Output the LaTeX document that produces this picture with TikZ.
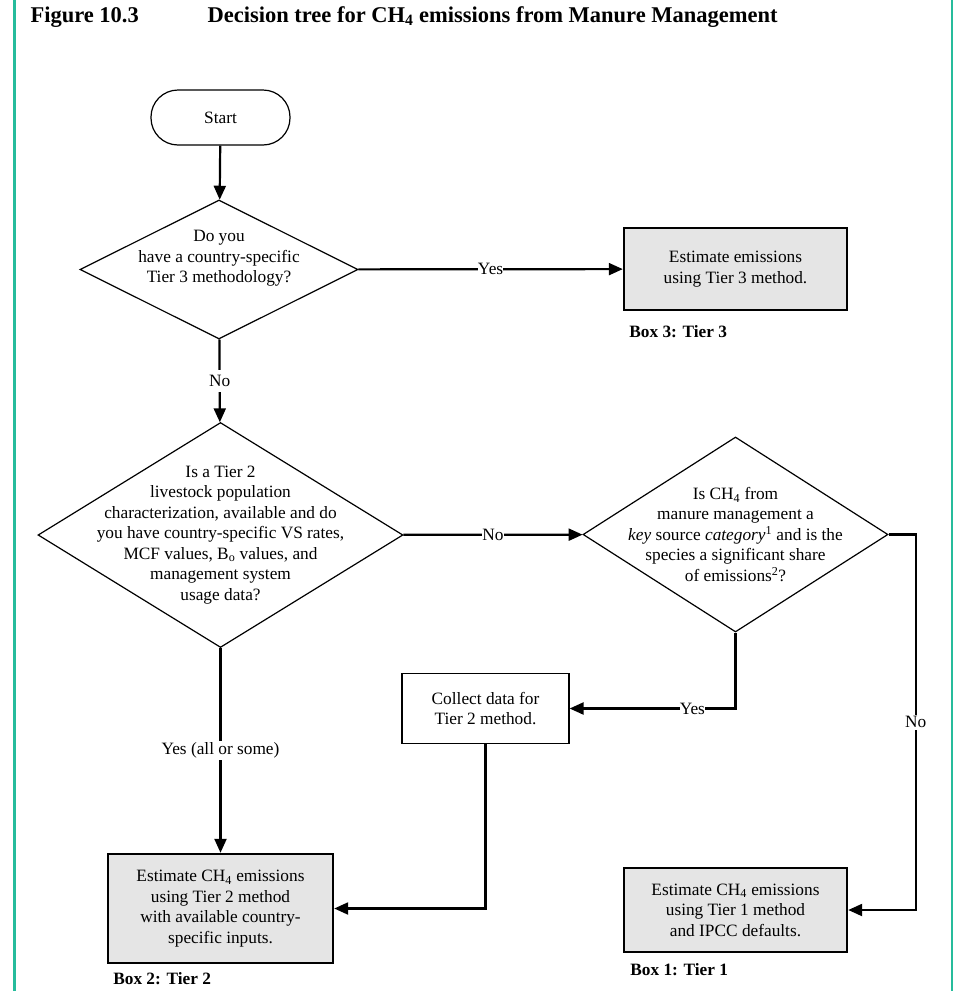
\documentclass[tikz,border=0pt]{standalone}
\usepackage{fontspec}
\setmainfont{Liberation Serif}
\usepackage{tikz}
\usetikzlibrary{shapes.geometric, arrows.meta, positioning, calc}
\definecolor{frameteal}{RGB}{38,188,156}

\begin{document}
\begin{tikzpicture}[x=1pt, y=-1pt,
    every node/.style={font=\fontsize{17.3}{20.5}\selectfont},
    start/.style={rectangle, draw, line width=1.2pt, rounded corners=27pt, minimum width=139pt, minimum height=55pt},
    decision/.style={diamond, draw, line width=1.2pt, inner sep=0pt},
    box/.style={rectangle, draw, line width=2.4pt, fill=black!10, align=center, inner sep=0pt},
    plain/.style={rectangle, draw, line width=1.2pt, align=center, inner sep=0pt},
    boxlbl/.style={anchor=west, font=\fontsize{17.3}{20.5}\selectfont\bfseries},
    lbl/.style={fill=white, inner sep=2pt},
    line/.style={draw, line width=2.2pt, -{Triangle[length=14pt,width=12pt]}}
]
    \useasboundingbox (0,0) rectangle (966,991);
    \draw[frameteal, line width=2.5pt] (14.5,0) -- (14.5,991);
    \draw[frameteal, line width=2.5pt] (952,0) -- (952,991);

    % title
    \node[anchor=west, font=\fontsize{22.5}{26}\selectfont\bfseries] (fig) at (27,17) {Figure 10.3};
    \node[anchor=west, font=\fontsize{22.5}{26}\selectfont\bfseries] (title) at (204,17) {Decision tree for CH\textsubscript{4} emissions from Manure Management};

    \node [start] (start) at (220.5,117.5) {Start};
    \node [decision, minimum width=278pt, minimum height=139pt,
        label={[align=center, yshift=11pt]center:{Do you\\have a country-specific\\Tier 3 methodology?}}] (q1) at (219,269.5) {};
    \node [box, minimum width=223pt, minimum height=82pt] (box3) at (735.5,269) {Estimate emissions\\using Tier 3 method.};
    \node [boxlbl] at ($(box3.south west)+(3,20)$) {Box 3: Tier 3};

    \node [decision, minimum width=365pt, minimum height=225pt,
        label={[align=center]center:{Is a Tier 2\\livestock population\\characterization, available and do\\you have country-specific VS rates,\\MCF values, B\textsubscript{o} values, and\\management system\\usage data?}}] (q2) at (220.5,535) {};
    \node [decision, minimum width=305pt, minimum height=195pt,
        label={[align=center]center:{Is CH\textsubscript{4} from\\manure management a\\\textit{key} source \textit{category}\textsuperscript{1} and is the\\species a significant share\\of emissions\textsuperscript{2}?}}] (q3) at (735.5,534.5) {};

    \node [plain, minimum width=167pt, minimum height=70pt] (collect) at (485.5,708.5) {Collect data for\\Tier 2 method.};

    \node [box, minimum width=225pt, minimum height=109pt] (box2) at (220.5,908.5) {Estimate CH\textsubscript{4} emissions\\using Tier 2 method\\with available country-\\specific inputs.};
    \node [boxlbl] at ($(box2.south west)+(3,14)$) {Box 2: Tier 2};
    \node [box, minimum width=223pt, minimum height=84pt] (box1) at (735.5,910) {Estimate CH\textsubscript{4} emissions\\using Tier 1 method\\and IPCC defaults.};
    \node [boxlbl] at ($(box1.south west)+(4,16)$) {Box 1: Tier 1};

    \path [line] (start) -- (q1);
    \path [line] (q1) -- node [lbl, inner xsep=0pt] {Yes} (box3);
    \path [line] (q1) -- node [lbl, inner ysep=5pt] {No} (q2);
    \path [line] (q2) -- node [lbl, inner xsep=0pt] {No} (q3);
    \path [line] (q2) -- node [lbl] {Yes (all or some)} (box2);
    \path [line] (q3.south) |- node [lbl, pos=0.63, inner xsep=0pt] {Yes} (collect.east);
    \path [line] (q3.east) -- ++(27,0) |- node [lbl, pos=0.25] {No} (box1.east);
    \path [line] (collect.south) |- (box2.east);
\end{tikzpicture}
\end{document}
